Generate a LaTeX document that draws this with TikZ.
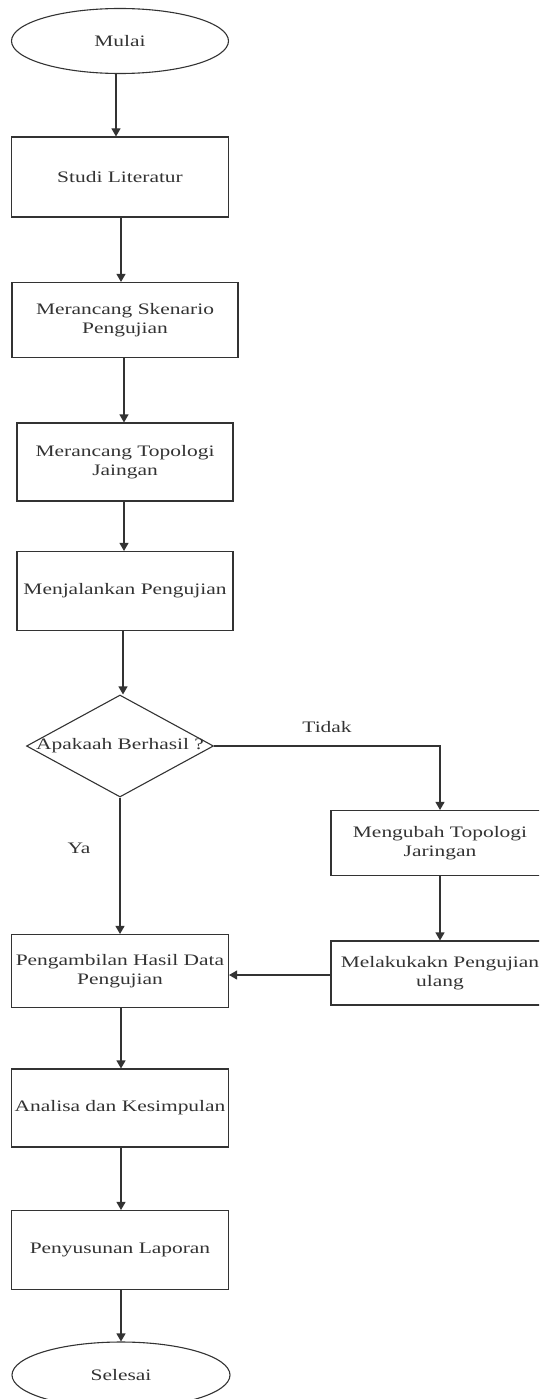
\documentclass[tikz,border=0pt]{standalone}
\usepackage{fontspec}
\setmainfont{Liberation Serif}[FakeStretch=1.34]
\usepackage{tikz}
\usetikzlibrary{arrows.meta}
\usetikzlibrary{shapes.geometric}
\tikzset{
  terminal/.style={draw=black!80, line width=1.1pt, ellipse, inner sep=0pt, text=black!80},
  process/.style={draw=black!80, line width=1.1pt, rectangle, inner sep=0pt, align=center, text=black!80},
  decision/.style={draw=black!80, line width=1.1pt, diamond, inner sep=0pt, minimum width=187pt, minimum height=102pt, text=black!80},
  flowline/.style={draw=black!80, line width=1.1pt, -{Triangle[width=9pt,length=8pt]}},
  answer/.style={inner sep=0pt, text=black!80},
}

\begin{document}
\begin{tikzpicture}[x=1pt, y=-1pt, font=\fontsize{16}{19}\selectfont]
    \clip (0,0) rectangle (539,1399);
    % left column
    \node[terminal, minimum width=217pt, minimum height=65pt] (mulai) at (120,41) {Mulai};
    \node[process, minimum width=217pt, minimum height=80pt] (studi) at (120,177) {Studi Literatur};
    \node[process, minimum width=226pt, minimum height=75pt] (skenario) at (125,320) {Merancang Skenario\\Pengujian};
    \node[process, minimum width=216pt, minimum height=78pt] (topologi) at (125,462) {Merancang Topologi\\Jaingan};
    \node[process, minimum width=216pt, minimum height=79pt] (jalan) at (125,591) {Menjalankan Pengujian};
    \node[decision, label={[answer]center:{Apakaah Berhasil ?}}] (cek) at (120,746) {};
    \node[process, minimum width=217pt, minimum height=73pt] (ambil) at (120,971) {Pengambilan Hasil Data\\Pengujian};
    \node[process, minimum width=217pt, minimum height=78pt] (analisa) at (120,1108) {Analisa dan Kesimpulan};
    \node[process, minimum width=217pt, minimum height=79pt] (laporan) at (120,1250) {Penyusunan Laporan};
    \node[terminal, minimum width=218pt, minimum height=66pt] (selesai) at (121,1375) {Selesai};
    % right column
    \node[process, minimum width=218pt, minimum height=65pt] (ubah) at (440,843) {Mengubah Topologi\\Jaringan};
    \node[process, minimum width=218pt, minimum height=64pt] (ulang) at (440,973) {Melakukakn Pengujian\\ulang};

    \draw[flowline] (mulai.south -| 116,0) -- (studi.north -| 116,0);
    \draw[flowline] (studi.south -| 121,0) -- (skenario.north -| 121,0);
    \draw[flowline] (skenario.south -| 124,0) -- (topologi.north -| 124,0);
    \draw[flowline] (topologi.south -| 124,0) -- (jalan.north -| 124,0);
    \draw[flowline] (jalan.south -| 123,0) -- (cek.north -| 123,0);
    \draw[flowline] (cek.south) -- (cek.south |- ambil.north) node[answer, pos=0.37, left=29pt] (ya) {Ya};
    \draw[flowline] (cek.east) -| (ubah.north) node[answer, pos=0.25, above=13pt] (tidak) {Tidak};
    \draw[flowline] (ubah) -- (ulang);
    \draw[flowline] (ulang.west |- 0,975) -- (ambil.east |- 0,975);
    \draw[flowline] (ambil.south -| 121,0) -- (analisa.north -| 121,0);
    \draw[flowline] (analisa.south -| 121,0) -- (laporan.north -| 121,0);
    \draw[flowline] (laporan.south -| 121,0) -- (selesai.north -| 121,0);
\end{tikzpicture}
\end{document}
